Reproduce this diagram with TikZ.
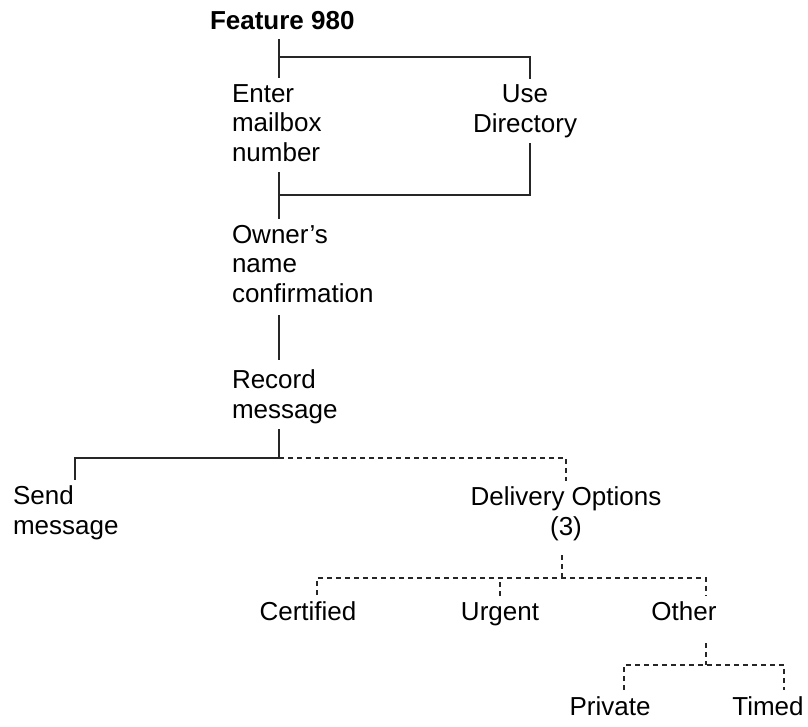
\documentclass[tikz,border=0pt]{standalone}
\usepackage{fontspec}
\setmainfont{Liberation Sans}
\usepackage{tikz}
\usetikzlibrary{calc,positioning}

\tikzset{
    lbl/.style={font=\fontsize{26}{29.5}\selectfont, inner sep=0pt, outer xsep=0pt, outer ysep=6pt, align=left, anchor=base west},
    link/.style={draw=black!85, line width=1.2pt},
    opt/.style={link, dash pattern=on 5pt off 4pt}
}

\begin{document}
\begin{tikzpicture}[x=1pt, y=-1pt]
    \useasboundingbox (0,0) rectangle (808,726);
    \node[lbl, font=\fontsize{26}{29.5}\selectfont\bfseries] (feat) at (210,29) {Feature 980};
    \node[lbl] (enter) at (232,161) {Enter\\mailbox\\number};
    \node[lbl, align=center, anchor=base] (usedir) at (525,132) {Use\\Directory};
    \node[lbl] (owner) at (232,302) {Owner's\\name\\confirmation};
    \node[lbl] (record) at (232,418) {Record\\message};
    \node[lbl] (send) at (13,534) {Send\\message};
    \node[lbl, align=center, anchor=base] (deliv) at (566,535) {Delivery Options\\(3)};
    \node[lbl, anchor=base] (cert) at (308,620) {Certified};
    \node[lbl, anchor=base] (urgent) at (500,620) {Urgent};
    \node[lbl, anchor=base] (other) at (684,620) {Other};
    \node[lbl, anchor=base] (private) at (610,715) {Private};
    \node[lbl, anchor=base] (timed) at (768,715) {Timed};

    % branch points
    \coordinate (j1) at (279,57);
    \coordinate (j2) at (279,195);
    \coordinate (j3) at (279,458);
    \coordinate (j4) at (562,578);
    \coordinate (j5) at (706,665);

    \draw[link] ([yshift=-4pt]feat.south -| j1) -- (enter.north -| j1);
    \draw[link] (j1) -| ([xshift=5pt]usedir.north);
    \draw[link] ([yshift=-5pt]enter.south -| j2) -- (owner.north -| j2);
    \draw[link] ([xshift=5pt]usedir.south) |- (j2);
    \draw[link] ([yshift=-7pt]owner.south -| j2) -- ([yshift=4pt]record.north -| j2);
    \draw[link] (record.south -| j3) -- (j3) -| ([xshift=62pt]send.north west);

    \draw[opt] (j3) -| (deliv.north);
    \draw[opt] ([yshift=-9pt]deliv.south -| j4) -- (j4);
    \draw[opt] ([xshift=9pt]cert.north) |- (j4) -| ([xshift=22pt]other.north);
    \draw[opt] (urgent.north) -- (urgent.north |- j4);
    \draw[opt] ([xshift=22pt,yshift=-17pt]other.south) -- (j5);
    \draw[opt] ([xshift=14pt]private.north) |- (j5) -| ([xshift=16pt]timed.north);
\end{tikzpicture}
\end{document}
